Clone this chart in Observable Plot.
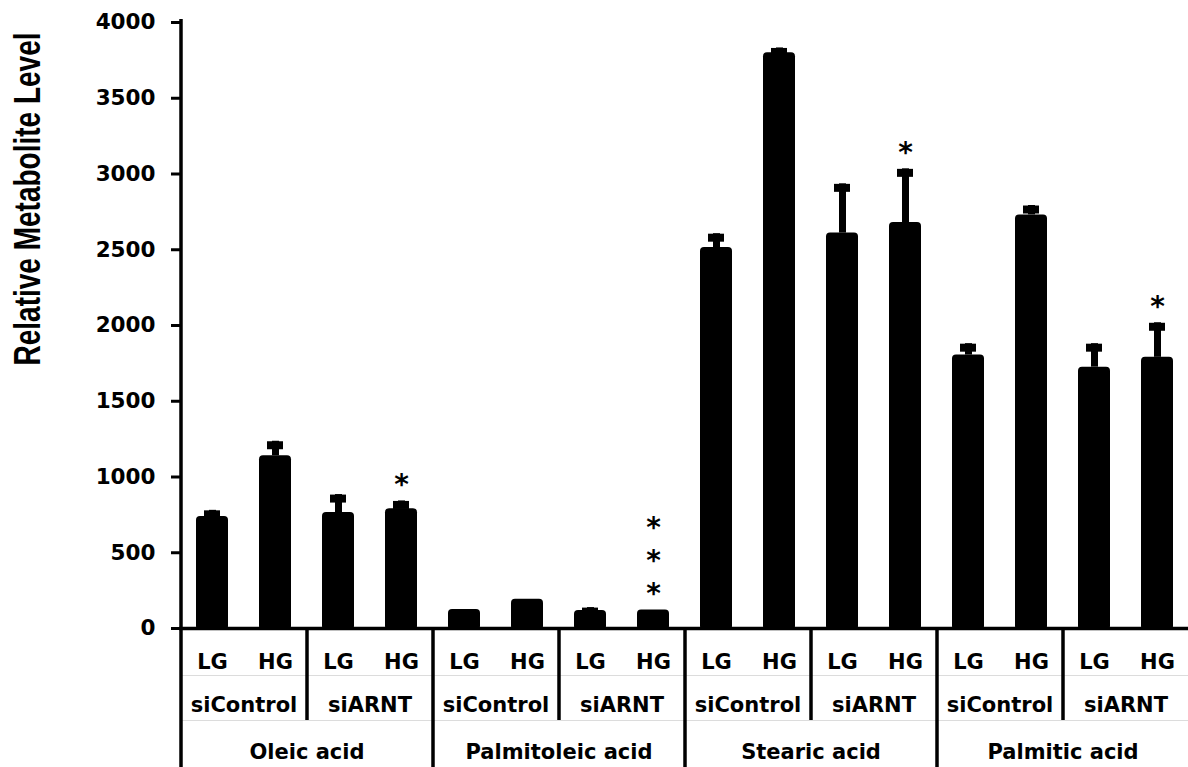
<!DOCTYPE html>
<html>
<head>
<meta charset="utf-8">
<script src="https://cdn.jsdelivr.net/npm/d3@7"></script>
<script src="https://cdn.jsdelivr.net/npm/@observablehq/plot@0.6"></script>
<style>
  html, body { margin: 0; padding: 0; background: #fff; }
  #chart svg { display: block; }
</style>
</head>
<body>
<div id="chart"></div>
<script>
// Fatty acid levels by glucose condition (LG / HG) and siRNA treatment
const acids = ["Oleic acid", "Palmitoleic acid", "Stearic acid", "Palmitic acid"];
const sirnas = ["siControl", "siARNT"];
const glucose = ["LG", "HG"];

// Means, in acid → siRNA → glucose order
const means = [740, 1140, 765, 790, 125, 193, 118, 122, 2515, 3800, 2610, 2680, 1805, 2730, 1725, 1790];
// Upper error (SEM)
const sems = [40, 96, 119, 52, 0, 0, 20, 0, 91, 32, 325, 354, 75, 62, 155, 228];
// Number of significance asterisks above each bar
const stars = [0, 0, 0, 1, 0, 0, 0, 3, 0, 0, 0, 1, 0, 0, 0, 1];

const yTicks = [0, 500, 1000, 1500, 2000, 2500, 3000, 3500, 4000];
const yTitle = "Relative Metabolite Level";

const bars = [];
acids.forEach((acid, a) =>
  sirnas.forEach((si, s) =>
    glucose.forEach((g, k) => {
      const i = a * 4 + s * 2 + k;
      bars.push({key: `${acid}|${si}|${g}`, acid, si, g, mean: means[i], top: means[i] + sems[i], stars: stars[i]});
    })
  )
);

const withError = bars.filter(d => d.top > d.mean);
const step = 63; // band step in px (range width / number of bars)

const chart = Plot.plot({
  width: 1188,
  height: 767,
  marginLeft: 181,
  marginRight: 0,
  marginTop: 22,
  marginBottom: 139,
  style: {
    fontFamily: "'DejaVu Sans', sans-serif",
    fontWeight: "bold",
    fontSize: "21px",
    color: "#000",
    background: "#fff",
    overflow: "visible"
  },
  x: {type: "band", domain: bars.map(d => d.key), range: [181, 1189], paddingInner: 0.49, paddingOuter: 0.245, axis: null},
  y: {domain: [0, 4000]},
  marks: [
    // light row dividers under the axis
    Plot.ruleY([0], {dy: 47, stroke: "#dcdcdc", strokeWidth: 1}),
    Plot.ruleY([0], {dy: 92, stroke: "#dcdcdc", strokeWidth: 1}),

    // bars
    Plot.barY(bars, {x: "key", y: "mean", fill: "#000", rx: 4, insetBottom: -2}),

    // error bars (upper only)
    Plot.ruleX(withError, {x: "key", y1: "mean", y2: "top", stroke: "#000", strokeWidth: 7}),
    Plot.tickY(withError, {x: "key", y: "top", dy: 4, stroke: "#000", strokeWidth: 8, insetLeft: 8, insetRight: 8}),

    // significance asterisks
    Plot.text(bars.filter(d => d.stars > 0), {
      x: "key", y: "top",
      text: d => Array(d.stars).fill("*").join("\n"),
      lineAnchor: "bottom", lineHeight: 1.18, fontSize: 28, dy: -7
    }),

    // y axis line (continues down as the table's left border)
    Plot.ruleX(bars.slice(0, 1), {x: "key", dx: -step / 2, stroke: "#000", strokeWidth: 3.5, insetTop: -3, insetBottom: -139}),
    // borders between acids
    Plot.ruleX(bars.filter((d, i) => i > 0 && d.si === "siControl" && d.g === "LG"),
      {x: "key", dx: -step / 2, stroke: "#000", strokeWidth: 3.5, insetTop: 606, insetBottom: -139}),
    // borders between siRNA groups
    Plot.ruleX(bars.filter(d => d.si === "siARNT" && d.g === "LG"),
      {x: "key", dx: -step / 2, stroke: "#000", strokeWidth: 3.5, insetTop: 606, insetBottom: -92}),

    // x axis line
    Plot.ruleY([0], {stroke: "#000", strokeWidth: 3.5, insetLeft: -2}),

    // y axis ticks and labels
    Plot.axisY(yTicks, {tickSize: 10, tickPadding: 16, strokeWidth: 3, fontSize: 21.5, tickFormat: d => String(d), label: null}),

    // category labels below the axis
    Plot.text(bars, {x: "key", text: "g", frameAnchor: "bottom", lineAnchor: "middle", dy: 34}),
    Plot.text(bars.filter(d => d.g === "LG"), {x: "key", text: "si", frameAnchor: "bottom", lineAnchor: "middle", dx: step / 2, dy: 77}),
    Plot.text(bars.filter(d => d.si === "siControl" && d.g === "HG"), {x: "key", text: "acid", frameAnchor: "bottom", lineAnchor: "middle", dx: step / 2, dy: 124}),

    // y axis title
    Plot.text([yTitle], {
      text: d => d, frameAnchor: "top-left", rotate: -90, textAnchor: "middle", lineAnchor: "bottom",
      dx: -142, dy: 176.5,
      fontFamily: "'Liberation Sans', Arial, sans-serif", fontSize: 28, fontWeight: "bold"
    })
  ]
});

// widen the rotated title's letterforms across the axis direction
chart.querySelectorAll("text").forEach(t => {
  if (t.textContent === yTitle) {
    t.setAttribute("transform", (t.getAttribute("transform") || "") + " scale(1,1.3)");
  }
});

document.getElementById("chart").appendChild(chart);
</script>
</body>
</html>
